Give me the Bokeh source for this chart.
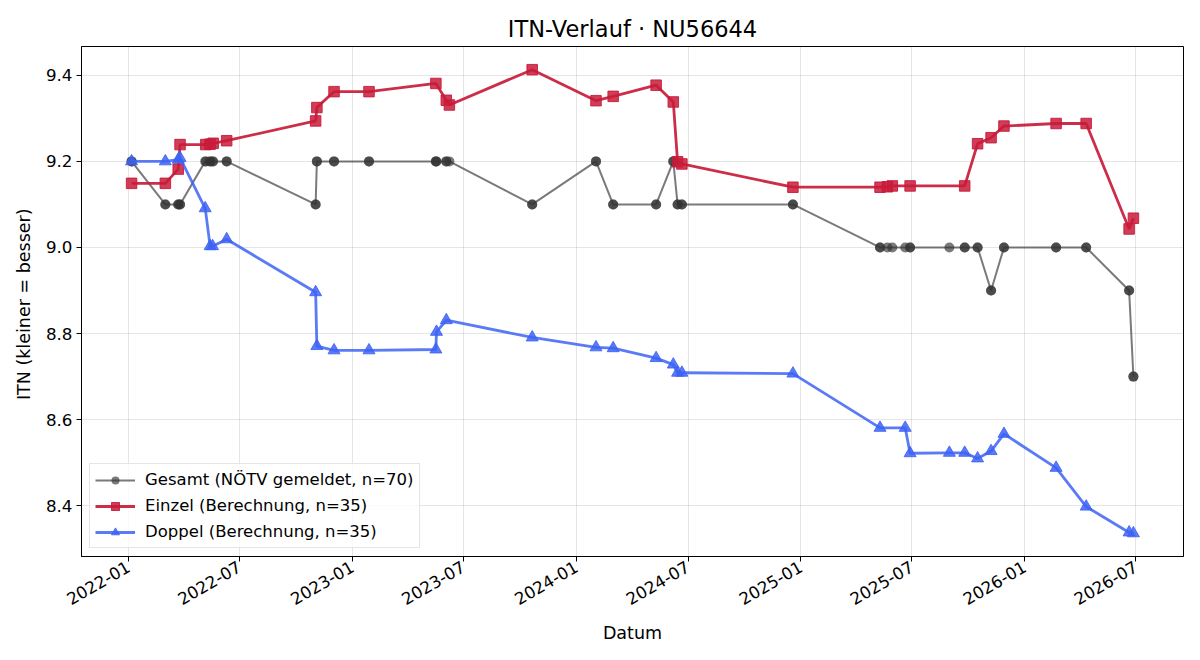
import math
import pandas as pd
from bokeh.plotting import figure
from bokeh.models import (Range1d, FixedTicker, DatetimeTickFormatter,
                          PrintfTickFormatter, Legend, LegendItem)
from bokeh.embed import file_html
from bokeh.resources import INLINE

# --- data -------------------------------------------------------------
einzel_dates = [
    "2022-01-06", "2022-03-02", "2022-03-23", "2022-03-26", "2022-05-07",
    "2022-05-14", "2022-05-19", "2022-06-10", "2022-11-02", "2022-11-04",
    "2022-12-02", "2023-01-28", "2023-05-17", "2023-06-03", "2023-06-08",
    "2023-10-21", "2024-02-02", "2024-03-01", "2024-05-10", "2024-06-07",
    "2024-06-14", "2024-06-21", "2024-12-19", "2025-05-10", "2025-05-22",
    "2025-05-30", "2025-06-28", "2025-09-25", "2025-10-16", "2025-11-07",
    "2025-11-28", "2026-02-21", "2026-04-11", "2026-06-20", "2026-06-27",
]
einzel_itn = [
    9.149, 9.149, 9.182, 9.239, 9.239,
    9.240, 9.242, 9.248, 9.294, 9.325,
    9.362, 9.362, 9.381, 9.342, 9.331,
    9.413, 9.341, 9.351, 9.377, 9.338,
    9.199, 9.194, 9.140, 9.140, 9.141,
    9.143, 9.143, 9.143, 9.241, 9.255,
    9.282, 9.288, 9.288, 9.043, 9.068,
]

doppel_dates = [
    "2022-01-06", "2022-03-02", "2022-03-23", "2022-03-26", "2022-05-06",
    "2022-05-14", "2022-05-18", "2022-06-10", "2022-11-02", "2022-11-04",
    "2022-12-02", "2023-01-28", "2023-05-17", "2023-05-18", "2023-06-03",
    "2023-10-21", "2024-02-02", "2024-03-01", "2024-05-10", "2024-06-07",
    "2024-06-14", "2024-06-21", "2024-12-19", "2025-05-10", "2025-06-20",
    "2025-06-28", "2025-08-31", "2025-09-25", "2025-10-16", "2025-11-07",
    "2025-11-28", "2026-02-21", "2026-04-11", "2026-06-20", "2026-06-27",
]
doppel_itn = [
    9.200, 9.200, 9.204, 9.208, 9.091,
    9.003, 9.003, 9.019, 8.896, 8.771,
    8.761, 8.761, 8.763, 8.804, 8.831,
    8.791, 8.768, 8.766, 8.743, 8.728,
    8.709, 8.709, 8.707, 8.581, 8.581,
    8.522, 8.523, 8.523, 8.510, 8.527,
    8.567, 8.488, 8.398, 8.338, 8.336,
]

gesamt_dates = [
    "2022-01-06", "2022-01-06", "2022-03-02", "2022-03-02", "2022-03-23",
    "2022-03-23", "2022-03-26", "2022-03-26", "2022-05-06", "2022-05-07",
    "2022-05-14", "2022-05-14", "2022-05-18", "2022-05-19", "2022-06-10",
    "2022-06-10", "2022-11-02", "2022-11-02", "2022-11-04", "2022-11-04",
    "2022-12-02", "2022-12-02", "2023-01-28", "2023-01-28", "2023-05-17",
    "2023-05-17", "2023-05-18", "2023-06-03", "2023-06-03", "2023-06-08",
    "2023-10-21", "2023-10-21", "2024-02-02", "2024-02-02", "2024-03-01",
    "2024-03-01", "2024-05-10", "2024-05-10", "2024-06-07", "2024-06-07",
    "2024-06-14", "2024-06-14", "2024-06-21", "2024-06-21", "2024-12-19",
    "2024-12-19", "2025-05-10", "2025-05-10", "2025-05-22", "2025-05-30",
    "2025-06-20", "2025-06-28", "2025-06-28", "2025-08-31", "2025-09-25",
    "2025-09-25", "2025-10-16", "2025-10-16", "2025-11-07", "2025-11-07",
    "2025-11-28", "2025-11-28", "2026-02-21", "2026-02-21", "2026-04-11",
    "2026-04-11", "2026-06-20", "2026-06-20", "2026-06-27", "2026-06-27",
]
gesamt_itn = [
    9.2, 9.2, 9.1, 9.1, 9.1,
    9.1, 9.1, 9.1, 9.2, 9.2,
    9.2, 9.2, 9.2, 9.2, 9.2,
    9.2, 9.1, 9.1, 9.2, 9.2,
    9.2, 9.2, 9.2, 9.2, 9.2,
    9.2, 9.2, 9.2, 9.2, 9.2,
    9.1, 9.1, 9.2, 9.2, 9.1,
    9.1, 9.1, 9.1, 9.2, 9.2,
    9.1, 9.1, 9.1, 9.1, 9.1,
    9.1, 9.0, 9.0, 9.0, 9.0,
    9.0, 9.0, 9.0, 9.0, 9.0,
    9.0, 9.0, 9.0, 8.9, 8.9,
    9.0, 9.0, 9.0, 9.0, 9.0,
    9.0, 8.9, 8.9, 8.7, 8.7,
]

x_tick_months = ["2022-01", "2022-07", "2023-01", "2023-07", "2024-01",
                 "2024-07", "2025-01", "2025-07", "2026-01", "2026-07"]
y_ticks = [8.4, 8.6, 8.8, 9.0, 9.2, 9.4]

FONT = "DejaVu Sans"

g_x = pd.to_datetime(gesamt_dates)
e_x = pd.to_datetime(einzel_dates)
d_x = pd.to_datetime(doppel_dates)

# 5 % padding around the data, like the usual autoscale margins
all_x = g_x.append(e_x).append(d_x)
x_min, x_max = all_x.min(), all_x.max()
x_pad = (x_max - x_min) * 0.05
all_y = gesamt_itn + einzel_itn + doppel_itn
y_min, y_max = min(all_y), max(all_y)
y_pad = (y_max - y_min) * 0.05

p = figure(width=1200, height=660, x_axis_type="datetime",
           output_backend="svg", toolbar_location=None,
           x_range=Range1d(x_min - x_pad, x_max + x_pad),
           y_range=Range1d(y_min - y_pad, y_max + y_pad),
           min_border_left=81, min_border_right=17,
           min_border_top=46, min_border_bottom=104)

p.title.text = "ITN-Verlauf · NU56644"
p.title.align = "center"
p.title.text_font = FONT
p.title.text_font_size = "22.5px"
p.title.text_font_style = "normal"
p.title.text_color = "#000000"
p.title.standoff = 9

p.outline_line_color = "#000000"
p.outline_line_alpha = 1.0
p.outline_line_width = 1

p.xgrid.grid_line_color = "#000000"
p.xgrid.grid_line_alpha = 0.1
p.ygrid.grid_line_color = "#000000"
p.ygrid.grid_line_alpha = 0.1

p.xaxis.ticker = FixedTicker(
    ticks=[pd.Timestamp(m + "-01").timestamp() * 1000 for m in x_tick_months])
fmt = "%Y-%m"
p.xaxis.formatter = DatetimeTickFormatter(
    microseconds=fmt, milliseconds=fmt, seconds=fmt, minsec=fmt, minutes=fmt,
    hourmin=fmt, hours=fmt, days=fmt, months=fmt, years=fmt)
p.xaxis.major_label_orientation = math.pi / 6
p.yaxis.ticker = FixedTicker(ticks=y_ticks)
p.yaxis.formatter = PrintfTickFormatter(format="%.1f")

for ax in (p.xaxis, p.yaxis):
    ax.axis_line_color = "#000000"
    ax.major_tick_line_color = "#000000"
    ax.major_tick_in = 0
    ax.major_tick_out = 5
    ax.minor_tick_line_color = None
    ax.major_label_text_font = FONT
    ax.major_label_text_font_size = "16.7px"
    ax.major_label_text_color = "#000000"
    ax.axis_label_text_font = FONT
    ax.axis_label_text_font_size = "17.5px"
    ax.axis_label_text_font_style = "normal"
    ax.axis_label_text_color = "#000000"

p.xaxis.axis_label = "Datum"
p.yaxis.axis_label = "ITN  (kleiner = besser)"
p.xaxis.major_label_standoff = 4
p.yaxis.major_label_standoff = 4
p.xaxis.axis_label_standoff = 9
p.yaxis.axis_label_standoff = 9

# --- series -----------------------------------------------------------
G_COL, E_COL, D_COL = "#333333", "#c81b3a", "#3d63f5"

g_line = p.line(g_x, gesamt_itn, line_color=G_COL, line_alpha=0.65, line_width=2)
g_pts = p.scatter(g_x, gesamt_itn, marker="circle", size=10,
                  fill_color=G_COL, fill_alpha=0.65, line_color=None)

e_line = p.line(e_x, einzel_itn, line_color=E_COL, line_alpha=0.92, line_width=2.8)
e_pts = p.scatter(e_x, einzel_itn, marker="square", size=10.5,
                  fill_color=E_COL, fill_alpha=0.85, line_color=E_COL, line_alpha=0.9)

d_line = p.line(d_x, doppel_itn, line_color=D_COL, line_alpha=0.85, line_width=2.8)
d_pts = p.scatter(d_x, doppel_itn, marker="triangle", size=12,
                  fill_color=D_COL, fill_alpha=0.85, line_color=D_COL, line_alpha=0.85)

legend = Legend(items=[
    LegendItem(label="Gesamt (NÖTV gemeldet, n=70)", renderers=[g_line, g_pts]),
    LegendItem(label="Einzel (Berechnung, n=35)", renderers=[e_line, e_pts]),
    LegendItem(label="Doppel (Berechnung, n=35)", renderers=[d_line, d_pts]),
], location="bottom_left")
legend.margin = 8
legend.padding = 5
legend.spacing = 5
legend.glyph_width = 40
legend.label_height = 21
legend.label_standoff = 10
legend.label_text_font = FONT
legend.label_text_font_size = "16.5px"
legend.label_text_color = "#000000"
legend.border_line_color = "#cccccc"
legend.border_line_width = 1
legend.background_fill_alpha = 0.8
p.add_layout(legend)

open("out.html", "w").write(file_html(p, INLINE))
